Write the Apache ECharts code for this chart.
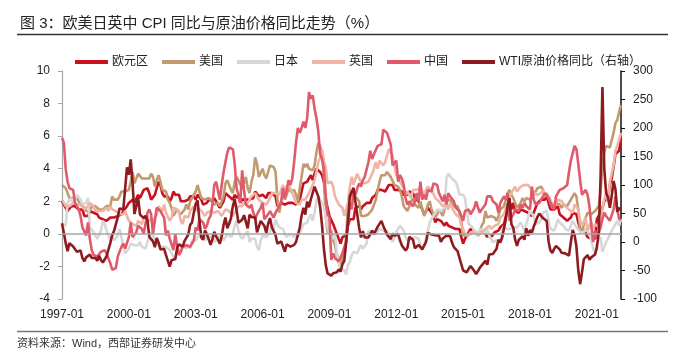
<!DOCTYPE html>
<html>
<head>
<meta charset="utf-8">
<title>CPI</title>
<script src="https://cdn.jsdelivr.net/npm/echarts@6/dist/echarts.min.js"></script>
<style>
    html, body { margin: 0; padding: 0; background: #fff; }
    #main { width: 677px; height: 353px; }
</style>
</head>
<body>
<div id="main"></div>
<script>
// 月度数据 1997-01 ~ 2022-02，同比 %
var euroCpi = [
    2.0,1.8,1.6,1.4,1.5,1.7,1.6,1.7,1.6,1.5,1.6,1.5,
    1.1,1.1,1.1,1.4,1.3,1.3,1.4,1.2,1.0,0.9,0.9,0.8,
    0.8,0.8,1.0,1.1,1.0,0.9,1.1,1.2,1.2,1.4,1.5,1.7,
    1.9,2.0,2.1,1.9,1.9,2.4,2.2,2.3,2.7,2.6,2.8,2.5,
    2.1,2.2,2.4,2.8,3.2,3.0,2.5,2.3,2.2,2.3,2.0,2.2,
    2.6,2.4,2.5,2.4,2.0,1.9,2.0,2.1,2.1,2.3,2.3,2.3,
    2.1,2.4,2.5,2.1,1.8,1.9,1.9,2.1,2.2,2.0,2.2,2.0,
    1.9,1.6,1.7,2.0,2.5,2.4,2.3,2.3,2.1,2.4,2.2,2.4,
    1.9,2.1,2.2,2.1,2.0,2.1,2.2,2.2,2.6,2.5,2.3,2.2,
    2.4,2.3,2.2,2.5,2.5,2.5,2.4,2.3,1.7,1.6,1.9,1.9,
    1.8,1.8,1.9,1.9,1.9,1.9,1.8,1.7,2.1,2.6,3.1,3.1,
    3.2,3.3,3.6,3.3,3.7,4.0,4.1,3.8,3.6,3.2,2.1,1.6,
    1.1,1.2,0.6,0.6,0.0,-0.1,-0.6,-0.2,-0.3,-0.1,0.5,0.9,
    1.0,0.9,1.6,1.6,1.7,1.5,1.7,1.6,1.9,1.9,1.9,2.2,
    2.3,2.4,2.7,2.8,2.7,2.7,2.6,2.5,3.0,3.0,3.0,2.7,
    2.7,2.7,2.7,2.6,2.4,2.4,2.4,2.6,2.6,2.5,2.2,2.2,
    2.0,1.8,1.7,1.2,1.4,1.6,1.6,1.3,1.1,0.7,0.9,0.8,
    0.8,0.7,0.5,0.7,0.5,0.5,0.4,0.4,0.3,0.4,0.3,-0.2,
    -0.6,-0.3,-0.1,0.0,0.3,0.2,0.2,0.1,-0.1,0.1,0.1,0.2,
    0.3,-0.2,0.0,-0.2,-0.1,0.1,0.2,0.2,0.4,0.5,0.6,1.1,
    1.7,2.0,1.5,1.9,1.4,1.3,1.3,1.5,1.5,1.4,1.5,1.3,
    1.3,1.1,1.3,1.2,1.9,2.0,2.1,2.0,2.1,2.3,1.9,1.5,
    1.4,1.5,1.4,1.7,1.2,1.3,1.0,1.0,0.8,0.7,1.0,1.3,
    1.4,1.2,0.7,0.3,0.1,0.3,0.4,-0.2,-0.3,-0.3,-0.3,-0.3,
    0.9,0.9,1.3,1.6,2.0,1.9,2.2,3.0,3.4,4.1,4.9,5.0,
    5.1,5.9
];
var usCpi = [
    3.0,3.0,2.8,2.5,2.2,2.3,2.2,2.2,2.2,2.1,1.8,1.7,
    1.6,1.4,1.4,1.4,1.7,1.7,1.7,1.6,1.5,1.5,1.5,1.6,
    1.7,1.6,1.7,2.3,2.1,2.0,2.1,2.3,2.6,2.6,2.6,2.7,
    2.7,3.2,3.8,3.1,3.2,3.7,3.7,3.4,3.5,3.4,3.4,3.4,
    3.7,3.5,2.9,3.3,3.6,3.2,2.7,2.7,2.6,2.1,1.9,1.6,
    1.1,1.1,1.5,1.6,1.2,1.1,1.5,1.8,1.5,2.0,2.2,2.4,
    2.6,3.0,3.0,2.2,2.1,2.1,2.1,2.2,2.3,2.0,1.8,1.9,
    1.9,1.7,1.7,2.3,3.1,3.3,3.0,2.7,2.5,3.2,3.5,3.3,
    3.0,3.0,3.1,3.5,2.8,2.5,3.2,3.6,4.7,4.3,3.5,3.4,
    4.0,3.6,3.4,3.5,4.2,4.3,4.1,3.8,2.1,1.3,2.0,2.5,
    2.1,2.4,2.8,2.6,2.7,2.7,2.4,2.0,2.8,3.5,4.3,4.1,
    4.3,4.0,4.0,3.9,4.2,5.0,5.6,5.4,4.9,3.7,1.1,0.1,
    0.0,0.2,-0.4,-0.7,-1.3,-1.4,-2.1,-1.5,-1.3,-0.2,1.8,2.7,
    2.6,2.1,2.3,2.2,2.0,1.1,1.2,1.1,1.1,1.2,1.1,1.5,
    1.6,2.1,2.7,3.2,3.6,3.6,3.6,3.8,3.9,3.5,3.4,3.0,
    2.9,2.9,2.7,2.3,1.7,1.7,1.4,1.7,2.0,2.2,1.8,1.7,
    1.6,2.0,1.5,1.1,1.4,1.8,2.0,1.5,1.2,1.0,1.2,1.5,
    1.6,1.1,1.5,2.0,2.1,2.1,2.0,1.7,1.7,1.7,1.3,0.8,
    -0.1,0.0,-0.1,-0.2,0.0,0.1,0.2,0.2,0.0,0.2,0.5,0.7,
    1.4,1.0,0.9,1.1,1.0,1.0,0.8,1.1,1.5,1.6,1.7,2.1,
    2.5,2.7,2.4,2.2,1.9,1.6,1.7,1.9,2.2,2.0,2.2,2.1,
    2.1,2.2,2.4,2.5,2.8,2.9,2.9,2.7,2.3,2.5,2.2,1.9,
    1.6,1.5,1.9,2.0,1.8,1.6,1.8,1.7,1.7,1.8,2.1,2.3,
    2.5,2.3,1.5,0.3,0.1,0.6,1.0,1.3,1.4,1.2,1.2,1.4,
    1.4,1.7,2.6,4.2,5.0,5.4,5.4,5.3,5.4,6.2,6.8,7.0,
    7.5,7.9
];
var japanCpi = [
    0.6,0.6,0.5,1.9,2.0,2.2,1.9,2.1,2.4,2.5,2.1,1.8,
    1.8,1.9,2.2,0.4,0.5,0.1,-0.1,-0.3,-0.2,0.2,0.8,0.6,
    0.2,-0.1,-0.4,-0.1,-0.4,-0.3,-0.1,0.3,-0.2,-0.7,-1.2,-1.1,
    -0.9,-0.6,-0.5,-0.7,-0.7,-0.7,-0.5,-0.8,-0.8,-0.9,-0.5,-0.2,
    0.1,-0.1,-0.4,-0.4,-0.7,-0.8,-0.8,-0.7,-0.8,-0.8,-1.0,-1.2,
    -1.4,-1.6,-1.2,-1.1,-0.9,-0.7,-0.8,-0.9,-0.7,-0.9,-0.4,-0.3,
    -0.4,-0.2,-0.1,-0.1,-0.2,-0.4,-0.2,-0.3,-0.2,0.0,-0.5,-0.4,
    -0.3,0.0,-0.1,-0.4,-0.5,0.0,-0.1,-0.2,0.0,0.5,0.8,0.2,
    -0.1,-0.3,-0.2,0.0,0.2,-0.5,-0.3,-0.3,-0.3,-0.8,-1.0,-0.4,
    -0.1,-0.1,-0.2,-0.1,0.1,0.5,0.3,0.9,0.6,0.4,0.3,0.3,
    0.0,-0.2,-0.1,0.0,0.0,-0.2,0.0,-0.2,-0.2,0.3,0.6,0.7,
    0.7,1.0,1.2,0.8,1.3,2.0,2.3,2.1,2.1,1.7,1.0,0.4,
    0.0,-0.1,-0.3,-0.1,-1.1,-1.8,-2.2,-2.2,-2.2,-2.5,-1.9,-1.7,
    -1.3,-1.1,-1.1,-1.2,-0.9,-0.7,-0.9,-0.9,-0.6,0.2,0.1,0.0,
    0.0,0.0,0.0,0.3,0.3,0.2,0.2,0.2,0.0,-0.2,-0.5,-0.2,
    0.1,0.3,0.5,0.4,0.2,-0.2,-0.4,-0.5,-0.3,-0.4,-0.2,-0.1,
    -0.3,-0.7,-0.9,-0.7,-0.3,0.2,0.7,0.9,1.1,1.1,1.5,1.6,
    1.4,1.5,1.6,3.4,3.7,3.6,3.4,3.3,3.2,2.9,2.4,2.4,
    2.4,2.2,2.3,0.6,0.5,0.4,0.2,0.2,0.0,0.3,0.3,0.2,
    0.0,0.3,-0.1,-0.3,-0.5,-0.4,-0.4,-0.5,-0.5,0.1,0.5,0.3,
    0.4,0.3,0.2,0.4,0.4,0.4,0.4,0.7,0.7,0.2,0.6,1.0,
    1.4,1.5,1.1,0.6,0.7,0.7,0.9,1.3,1.2,1.4,0.8,0.3,
    0.2,0.2,0.5,0.9,0.7,0.7,0.5,0.3,0.2,0.2,0.5,0.8,
    0.7,0.4,0.4,0.1,0.1,0.1,0.3,0.2,0.0,-0.4,-0.9,-1.2,
    -0.6,-0.4,-0.2,-1.1,-0.8,-0.5,-0.3,-0.4,0.2,0.1,0.6,0.8,
    0.5,0.9
];
var ukCpi = [
    2.1,1.9,1.7,1.6,1.7,1.8,1.9,2.0,1.8,1.8,1.8,1.7,
    1.5,1.6,1.7,1.9,1.8,1.7,1.4,1.3,1.4,1.4,1.4,1.5,
    1.6,1.4,1.7,1.5,1.4,1.4,1.3,1.2,1.2,1.2,1.4,1.1,
    0.8,0.9,0.6,0.6,0.5,0.8,0.9,0.6,1.0,1.0,1.1,0.8,
    0.9,0.8,0.9,1.2,1.7,1.7,1.4,1.8,1.3,1.2,0.8,1.0,
    1.6,1.5,1.5,1.3,0.8,0.6,1.1,1.0,1.0,1.4,1.5,1.7,
    1.4,1.6,1.5,1.4,1.3,1.1,1.3,1.4,1.4,1.4,1.3,1.3,
    1.4,1.3,1.1,1.2,1.5,1.6,1.4,1.3,1.1,1.2,1.5,1.7,
    1.6,1.7,1.9,1.9,1.9,2.0,2.3,2.4,2.5,2.3,2.1,2.0,
    1.9,2.0,1.8,2.0,2.2,2.5,2.4,2.5,2.4,2.4,2.7,3.0,
    2.7,2.8,3.1,2.8,2.5,2.4,1.9,1.8,1.8,2.1,2.1,2.1,
    2.2,2.5,2.5,3.0,3.3,3.8,4.4,4.7,5.2,4.5,4.1,3.1,
    3.0,3.2,2.9,2.3,2.2,1.8,1.8,1.6,1.1,1.5,1.9,2.9,
    3.5,3.0,3.4,3.7,3.4,3.2,3.1,3.1,3.1,3.2,3.3,3.7,
    4.0,4.4,4.0,4.5,4.5,4.2,4.4,4.5,5.2,5.0,4.8,4.2,
    3.6,3.4,3.5,3.0,2.8,2.4,2.6,2.5,2.2,2.7,2.7,2.7,
    2.7,2.8,2.8,2.4,2.7,2.9,2.8,2.7,2.7,2.2,2.1,2.0,
    1.9,1.7,1.6,1.8,1.5,1.9,1.6,1.5,1.2,1.3,1.0,0.5,
    0.3,0.0,0.0,-0.1,0.1,0.0,0.1,0.0,-0.1,-0.1,0.1,0.2,
    0.3,0.3,0.5,0.3,0.3,0.5,0.6,0.6,1.0,0.9,1.2,1.6,
    1.8,2.3,2.3,2.7,2.9,2.6,2.6,2.9,3.0,3.0,3.1,3.0,
    3.0,2.7,2.5,2.4,2.4,2.4,2.5,2.7,2.4,2.4,2.3,2.1,
    1.8,1.9,1.9,2.1,2.0,2.0,2.1,1.7,1.7,1.5,1.5,1.3,
    1.8,1.7,1.5,0.8,0.5,0.6,1.0,0.2,0.5,0.7,0.3,0.6,
    0.7,0.4,0.7,1.5,2.1,2.5,2.0,3.2,3.1,4.2,5.1,5.4,
    5.5,6.2
];
var chinaCpi = [
    5.9,5.6,4.0,3.2,2.8,2.8,2.7,1.9,1.8,1.5,1.1,0.4,
    0.3,-0.1,0.7,-0.3,-1.0,-1.3,-1.4,-1.4,-1.5,-1.1,-1.2,-1.0,
    -1.2,-1.3,-1.8,-2.2,-2.2,-2.1,-1.4,-1.3,-0.8,-0.6,-0.9,-1.0,
    -0.2,0.7,-0.2,-0.3,0.1,0.5,0.5,0.3,0.0,0.0,1.3,1.5,
    1.2,0.0,0.8,1.6,1.7,1.4,1.5,1.0,-0.1,0.2,-0.3,-0.3,
    -1.0,0.0,-0.8,-1.3,-1.1,-0.8,-0.9,-0.7,-0.7,-0.8,-0.7,-0.4,
    0.4,0.2,0.9,1.0,0.7,0.3,0.5,0.9,1.1,1.8,3.0,3.2,
    3.2,2.1,3.0,3.8,4.4,5.0,5.3,5.3,5.2,4.3,2.8,2.4,
    1.9,3.9,2.7,1.8,1.8,1.6,1.8,1.3,0.9,1.2,1.3,1.6,
    1.9,0.9,0.8,1.2,1.4,1.5,1.0,1.3,1.5,1.4,1.9,2.8,
    2.2,2.7,3.3,3.0,3.4,4.4,5.6,6.5,6.2,6.5,6.9,6.5,
    7.1,8.7,8.3,8.5,7.7,7.1,6.3,4.9,4.6,4.0,2.4,1.2,
    1.0,-1.6,-1.2,-1.5,-1.4,-1.7,-1.8,-1.2,-0.8,-0.5,0.6,1.9,
    1.5,2.7,2.4,2.8,3.1,2.9,3.3,3.5,3.6,4.4,5.1,4.6,
    4.9,4.9,5.4,5.3,5.5,6.4,6.5,6.2,6.1,5.5,4.2,4.1,
    4.5,3.2,3.6,3.4,3.0,2.2,1.8,2.0,1.9,1.7,2.0,2.5,
    2.0,3.2,2.1,2.4,2.1,2.7,2.7,2.6,3.1,3.2,3.0,2.5,
    2.5,2.0,2.4,1.8,2.5,2.3,2.3,2.0,1.6,1.6,1.4,1.5,
    0.8,1.4,1.4,1.5,1.2,1.4,1.6,2.0,1.6,1.3,1.5,1.6,
    1.8,2.3,2.3,2.3,2.0,1.9,1.8,1.3,1.9,2.1,2.3,2.1,
    2.5,0.8,0.9,1.2,1.5,1.5,1.4,1.8,1.6,1.9,1.7,1.8,
    1.5,2.9,2.1,1.8,1.8,1.9,2.1,2.3,2.5,2.5,2.2,1.9,
    1.7,1.5,2.3,2.5,2.7,2.7,2.8,2.8,3.0,3.8,4.5,4.5,
    5.4,5.2,4.3,3.3,2.4,2.5,2.7,2.4,1.7,0.5,-0.5,0.2,
    -0.3,-0.2,0.4,0.9,1.3,1.1,1.0,0.8,0.7,1.5,2.3,1.5,
    0.9,0.9
];
// WTI 原油价格同比，右轴
var wtiYoy = [
    33,16,-2,-16,-2,-5,-8,-9,-17,-14,-15,-28,
    -34,-27,-28,-22,-28,-29,-28,-33,-24,-32,-36,-38,
    -25,-25,-2,12,19,31,43,59,59,57,94,131,
    118,145,103,49,63,78,48,47,42,46,38,9,
    9,1,-9,7,-1,-13,-11,-12,-23,-33,-43,-32,
    -33,-30,-10,-4,-6,-8,2,4,13,30,34,52,
    67,73,38,8,4,20,14,11,-5,5,18,10,
    4,-3,10,30,43,24,32,42,63,75,56,34,
    36,39,47,44,24,48,44,45,43,17,20,37,
    40,28,16,32,42,26,27,12,-3,-5,1,4,
    -17,-4,-4,-8,-10,-5,0,-1,25,46,60,48,
    71,61,75,76,97,98,80,61,30,-11,-40,-55,
    -55,-59,-55,-56,-53,-48,-52,-39,-33,-1,36,81,
    88,95,70,70,25,8,19,8,8,8,8,20,
    14,17,27,30,37,28,28,13,14,5,15,11,
    12,14,3,-6,-7,-15,-10,9,11,4,-11,-11,
    -5,-7,-13,-11,0,16,19,13,12,12,9,11,
    0,6,9,11,8,10,-1,-9,-12,-16,-19,-39,
    -50,-50,-53,-47,-42,-43,-51,-56,-51,-45,-44,-37,
    -33,-40,-22,-25,-21,-18,-12,4,-1,8,8,40,
    66,77,31,25,4,-7,4,7,10,4,24,11,
    21,16,27,30,44,50,52,42,41,37,1,-15,
    -19,-12,-7,-4,-13,-19,-19,-20,-19,-24,0,21,
    12,-8,-50,-74,-53,-30,-29,-23,-31,-27,-28,-22,
    -10,17,113,272,128,86,78,60,81,107,93,53,
    60,55
];
var leftTicks = { min: -4, max: 10, interval: 2 };
var rightTicks = { min: -100, max: 300, interval: 50 };

var months = [];
for (var y = 1997; y <= 2022; y++) {
    for (var m = 1; m <= 12; m++) {
        if (months.length >= euroCpi.length) break;
        months.push(y + '-' + (m < 10 ? '0' + m : m));
    }
}

var fontFamily = '"Liberation Sans", Arial, "Noto Sans CJK SC", sans-serif';

var lineSeries = function (name, data, color, axisIndex) {
    return {
        name: name,
        type: 'line',
        yAxisIndex: axisIndex,
        data: data,
        symbol: 'none',
        smooth: false,
        lineStyle: { color: color, width: 2.6 },
        itemStyle: { color: color }
    };
};

var euro = lineSeries('欧元区', euroCpi, '#C8101E', 0);
euro.markLine = {
    silent: true,
    symbol: 'none',
    label: { show: false },
    lineStyle: { color: '#A6A6A6', width: 1.5, type: 'solid' },
    data: [{ yAxis: 0 }]
};

var option = {
    animation: false,
    backgroundColor: '#fff',
    textStyle: { fontFamily: fontFamily },
    title: {
        text: '图 3：欧美日英中 CPI 同比与原油价格同比走势（%）',
        left: 15,
        top: 11,
        textStyle: { fontSize: 15, fontWeight: 'normal', color: '#222', fontFamily: fontFamily }
    },
    graphic: [
        { type: 'line', shape: { x1: 17, y1: 34.5, x2: 668, y2: 34.5 }, style: { stroke: '#333', lineWidth: 1.5 } },
        { type: 'line', shape: { x1: 17, y1: 331.5, x2: 668, y2: 331.5 }, style: { stroke: '#777', lineWidth: 1.5 } },
        { type: 'text', left: 17, top: 338, style: { text: '资料来源：Wind，西部证券研发中心', fontSize: 11, fill: '#333', fontFamily: fontFamily } }
    ],
    legend: {
        left: 70,
        top: 51,
        icon: 'rect',
        itemWidth: 33,
        itemHeight: 4,
        itemGap: 14,
        textStyle: { fontSize: 12, color: '#222', padding: [0, 0, 0, -1] },
        data: ['欧元区', '美国', '日本', '英国', '中国', 'WTI原油价格同比（右轴）']
    },
    grid: { left: 62, right: 56, top: 71, bottom: 54 },
    xAxis: {
        type: 'category',
        boundaryGap: false,
        data: months,
        axisLine: { show: false },
        axisTick: { show: false },
        axisLabel: { interval: 35, fontSize: 12, color: '#222', margin: 10 }
    },
    yAxis: [
        {
            type: 'value',
            min: leftTicks.min,
            max: leftTicks.max,
            interval: leftTicks.interval,
            axisLine: { show: true, lineStyle: { color: '#A6A6A6', width: 1.2 } },
            axisTick: { show: true, length: 4, lineStyle: { color: '#A6A6A6' } },
            axisLabel: { fontSize: 12, color: '#222', margin: 12 },
            splitLine: { show: false }
        },
        {
            type: 'value',
            position: 'right',
            min: rightTicks.min,
            max: rightTicks.max,
            interval: rightTicks.interval,
            axisLine: { show: true, lineStyle: { color: '#111', width: 1.5 } },
            axisTick: { show: true, length: 4, lineStyle: { color: '#111' } },
            axisLabel: { fontSize: 12, color: '#222', margin: 12 },
            splitLine: { show: false }
        }
    ],
    series: [
        euro,
        lineSeries('美国', usCpi, '#C19A6F', 0),
        lineSeries('日本', japanCpi, '#D7D7D7', 0),
        lineSeries('英国', ukCpi, '#F0B4A6', 0),
        lineSeries('中国', chinaCpi, '#E05A6B', 0),
        lineSeries('WTI原油价格同比（右轴）', wtiYoy, '#8E1B1F', 1)
    ]
};

var chart = echarts.init(document.getElementById('main'));
chart.setOption(option);
</script>
</body>
</html>
